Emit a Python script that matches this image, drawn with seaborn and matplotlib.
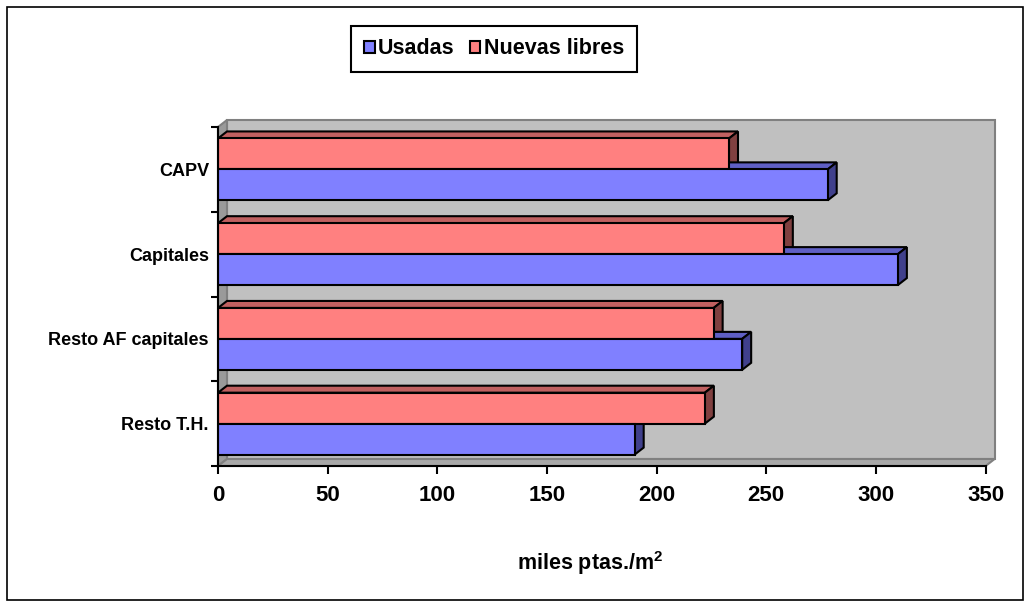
import matplotlib
matplotlib.use("Agg")
import matplotlib.pyplot as plt
from matplotlib.patches import Polygon, Rectangle, Patch
import seaborn as sns
import pandas as pd

# Precio medio de la vivienda (miles ptas./m2)
categories = ["CAPV", "Capitales", "Resto AF capitales", "Resto T.H."]
usadas = [278, 310, 239, 190]
nuevas_libres = [233, 258, 226, 222]
series_names = ["Usadas", "Nuevas libres"]
x_ticks = [0, 50, 100, 150, 200, 250, 300, 350]

sns.set_theme(style="ticks")
plt.rcParams["font.family"] = ["Liberation Sans", "DejaVu Sans"]
plt.rcParams["font.weight"] = "bold"
plt.rcParams["text.color"] = "black"
plt.rcParams["mathtext.fontset"] = "custom"
plt.rcParams["mathtext.rm"] = "Liberation Sans:bold"
plt.rcParams["mathtext.bf"] = "Liberation Sans:bold"
plt.rcParams["mathtext.it"] = "Liberation Sans:bold"

df = pd.DataFrame({
    "region": categories * 2,
    "valor": usadas + nuevas_libres,
    "serie": [series_names[0]] * len(categories) + [series_names[1]] * len(categories),
})

front = {"Usadas": "#8080FF", "Nuevas libres": "#FF8080"}
top_col = {"Usadas": "#5F5FC4", "Nuevas libres": "#C06060"}
side_col = {"Usadas": "#40408C", "Nuevas libres": "#804040"}

W, H = 1031, 607
x_max = 350
fig = plt.figure(figsize=(W / 100, H / 100), dpi=100)
ax_left, ax_right, ax_top, ax_bottom = 218, 985.6, 127, 466
ax = fig.add_axes([ax_left / W, 1 - ax_bottom / H,
                   (ax_right - ax_left) / W, (ax_bottom - ax_top) / H])

hue_order = ["Nuevas libres", "Usadas"]
sns.barplot(data=df, y="region", x="valor", hue="serie", order=categories,
            hue_order=hue_order, palette=front, saturation=1, width=0.73,
            orient="h", edgecolor="black", linewidth=1.5, legend=False,
            ax=ax, zorder=3)

ax.set_xlim(0, x_max)
ax.set_ylim(len(categories) - 0.5, -0.5)

# depth of the pseudo-3D extrusion, in data units
px_per_x = (ax_right - ax_left) / x_max
px_per_cat = (ax_bottom - ax_top) / len(categories)
dx = 9 / px_per_x
dy = 7 / px_per_cat

y_lo, y_hi = -0.5, len(categories) - 0.5
wall_kw = dict(clip_on=False, joinstyle="miter", linewidth=1.5)
ax.add_patch(Polygon([(dx, y_lo - dy), (x_max + dx, y_lo - dy),
                      (x_max + dx, y_hi - dy), (dx, y_hi - dy)],
                     facecolor="#C0C0C0", edgecolor="#808080", zorder=0.5, **wall_kw))
ax.add_patch(Polygon([(0, y_lo), (dx, y_lo - dy), (dx, y_hi - dy), (0, y_hi)],
                     facecolor="#9A9A9A", edgecolor="#808080", zorder=0.6, **wall_kw))
ax.add_patch(Polygon([(0, y_hi), (x_max, y_hi), (x_max + dx, y_hi - dy), (dx, y_hi - dy)],
                     facecolor="#A8A8A8", edgecolor="#808080", zorder=0.6, **wall_kw))

# top and side faces of every bar
for serie, cont in zip(hue_order, ax.containers):
    for bar in cont:
        x0, y0 = bar.get_x(), bar.get_y()
        w, h = bar.get_width(), bar.get_height()
        x1 = x0 + w
        ax.add_patch(Polygon([(x0, y0), (x1, y0), (x1 + dx, y0 - dy), (x0 + dx, y0 - dy)],
                             facecolor=top_col[serie], edgecolor="black",
                             linewidth=1.5, joinstyle="miter", zorder=2, clip_on=False))
        ax.add_patch(Polygon([(x1, y0), (x1, y0 + h), (x1 + dx, y0 + h - dy), (x1 + dx, y0 - dy)],
                             facecolor=side_col[serie], edgecolor="black",
                             linewidth=1.5, joinstyle="miter", zorder=2, clip_on=False))

for s in ["top", "right"]:
    ax.spines[s].set_visible(False)
for s in ["bottom", "left"]:
    ax.spines[s].set_color("black")
    ax.spines[s].set_linewidth(1.5)
    ax.spines[s].set_zorder(4)

ax.set_xticks(x_ticks)
ax.set_xticklabels([str(t) for t in x_ticks], fontsize=16, fontweight="bold")
ax.set_yticks(range(len(categories)))
ax.set_yticklabels(categories, fontsize=13, fontweight="bold")
ax.set_yticks([i - 0.5 for i in range(len(categories) + 1)], minor=True)
ax.tick_params(axis="x", which="major", length=6, width=1.5, color="black",
               direction="out", pad=8, labelcolor="black")
ax.tick_params(axis="y", which="major", length=0, pad=6.5, labelcolor="black")
ax.tick_params(axis="y", which="minor", length=5, width=1.5, color="black",
               direction="out")
ax.set_xlabel("")
ax.set_ylabel("")

handles = [Patch(facecolor=front[s], edgecolor="black", linewidth=1.5) for s in series_names]
leg = fig.legend(handles, series_names, loc="center",
                 bbox_to_anchor=(494 / W, 1 - 49 / H), ncol=2, frameon=True,
                 fancybox=False, edgecolor="black", framealpha=1,
                 handlelength=0.5, handleheight=0.5, handletextpad=0.15,
                 columnspacing=0.7, borderpad=0.6,
                 prop=dict(weight="bold", size=15.5))
leg.get_frame().set_linewidth(1.5)
for t in leg.get_texts():
    t.set_color("black")

fig.text(590 / W, 1 - 563 / H, r"miles ptas./m$^{2}$", ha="center", va="center",
         fontsize=15.5, fontweight="bold", color="black")

fig.add_artist(Rectangle((7 / W, 7 / H), (1023 - 7) / W, (600 - 7) / H,
                         transform=fig.transFigure, fill=False,
                         edgecolor="black", linewidth=1.2))

fig.savefig("out.png", dpi=100, facecolor="white")
